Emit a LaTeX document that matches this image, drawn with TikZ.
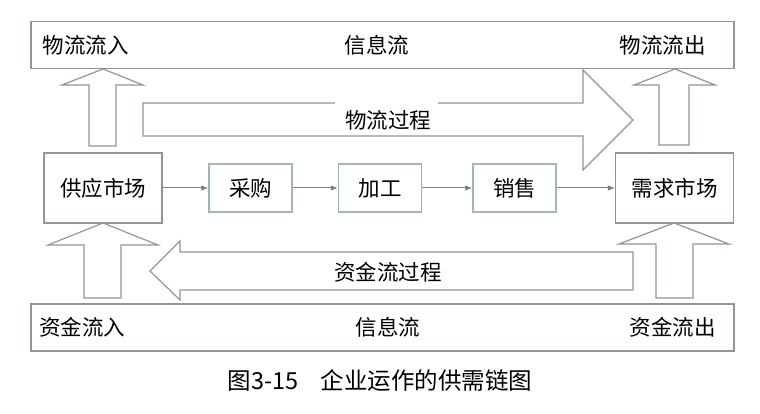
\documentclass[tikz,border=0pt]{standalone}
\usepackage{fontspec}
\setmainfont{Noto Sans CJK SC}
\usetikzlibrary{arrows.meta}
\definecolor{edge}{HTML}{8E9696}
\definecolor{boxedge}{HTML}{A2B4BC}
\definecolor{flow}{HTML}{6A8498}
\begin{document}
\begin{tikzpicture}[x=1pt,y=-1pt,
  band/.style={draw=edge,line width=1.3pt,minimum width=703pt,minimum height=47pt,inner sep=0pt},
  market/.style={draw=edge,line width=1.2pt,minimum width=118pt,minimum height=70pt,inner sep=0pt,fill=white,font=\fontsize{21.5}{21.5}\selectfont},
  stage/.style={draw=boxedge,line width=1.3pt,minimum width=83pt,minimum height=48pt,inner sep=0pt,fill=white,font=\fontsize{21.5}{21.5}\selectfont},
  lbl/.style={font=\fontsize{21.5}{21.5}\selectfont,inner sep=0pt,text=black},
  bigarrow/.style={draw=edge,line width=1.2pt,fill=white,line join=miter},
  flowarrow/.style={draw=flow,line width=1pt,-{Latex[length=7pt,width=5.5pt]}}]
\useasboundingbox (0,0) rectangle (760,414);
\fill[white] (0,0) rectangle (760,414);

% bands
\node[band] (top) at (382.5,45) {};
\node[band] (bot) at (382.5,327.5) {};
\node[lbl] (inA) at (85.5,45) {物流流入};
\node[lbl] (infoA) at (377,45) {信息流};
\node[lbl] (outA) at (662.5,45) {物流流出};
\node[lbl] (inB) at (82,327) {资金流入};
\node[lbl] (infoB) at (388,327) {信息流};
\node[lbl] (outB) at (672.5,327) {资金流出};

% big arrows
\path[bigarrow] (89,146) -- (89,85) -- (62,85) -- (103,69) -- (143,85) -- (116,85) -- (116,146) -- cycle;
\path[bigarrow] (659,145) -- (659,85) -- (634,85) -- (675,69) -- (715,85) -- (689,85) -- (689,145) -- cycle;
\path[bigarrow] (84,298) -- (84,245) -- (48,245) -- (103,223) -- (158,245) -- (121,245) -- (121,298) -- cycle;
\path[bigarrow] (656,298) -- (656,244) -- (619,244) -- (674,223) -- (729,244) -- (693,244) -- (693,298) -- cycle;

% material flow arrow (top edge broken by its label)
\draw[edge,line width=1.2pt,line join=miter] (335,103) -- (143,103) -- (143,136) -- (583,136) -- (583,170) -- (633,120) -- (583,70) -- (583,103) -- (438,103);
\node[lbl] (mat) at (388,120) {物流过程};

% capital flow arrow
\path[bigarrow] (633,252) -- (180,252) -- (180,241) -- (150,271) -- (180,300) -- (180,290) -- (633,290) -- cycle;
\node[lbl] (cash) at (388,272) {资金流过程};

% markets and stages
\node[market] (supply) at (103,188) {供应市场};
\node[market] (demand) at (674.5,188) {需求市场};
\node[stage] (buy) at (250.5,188) {采购};
\node[stage] (make) at (380,188) {加工};
\node[stage] (sell) at (514.5,188) {销售};

\draw[flowarrow] (supply) -- (buy);
\draw[flowarrow] (buy) -- (make);
\draw[flowarrow] (make) -- (sell);
\draw[flowarrow] (sell) -- (demand);

% caption
\node[font=\fontsize{23.5}{23.5}\selectfont,inner sep=0pt] (cap) at (380,381) {图3-15\hspace{22pt}企业运作的供需链图};
\end{tikzpicture}
\end{document}
